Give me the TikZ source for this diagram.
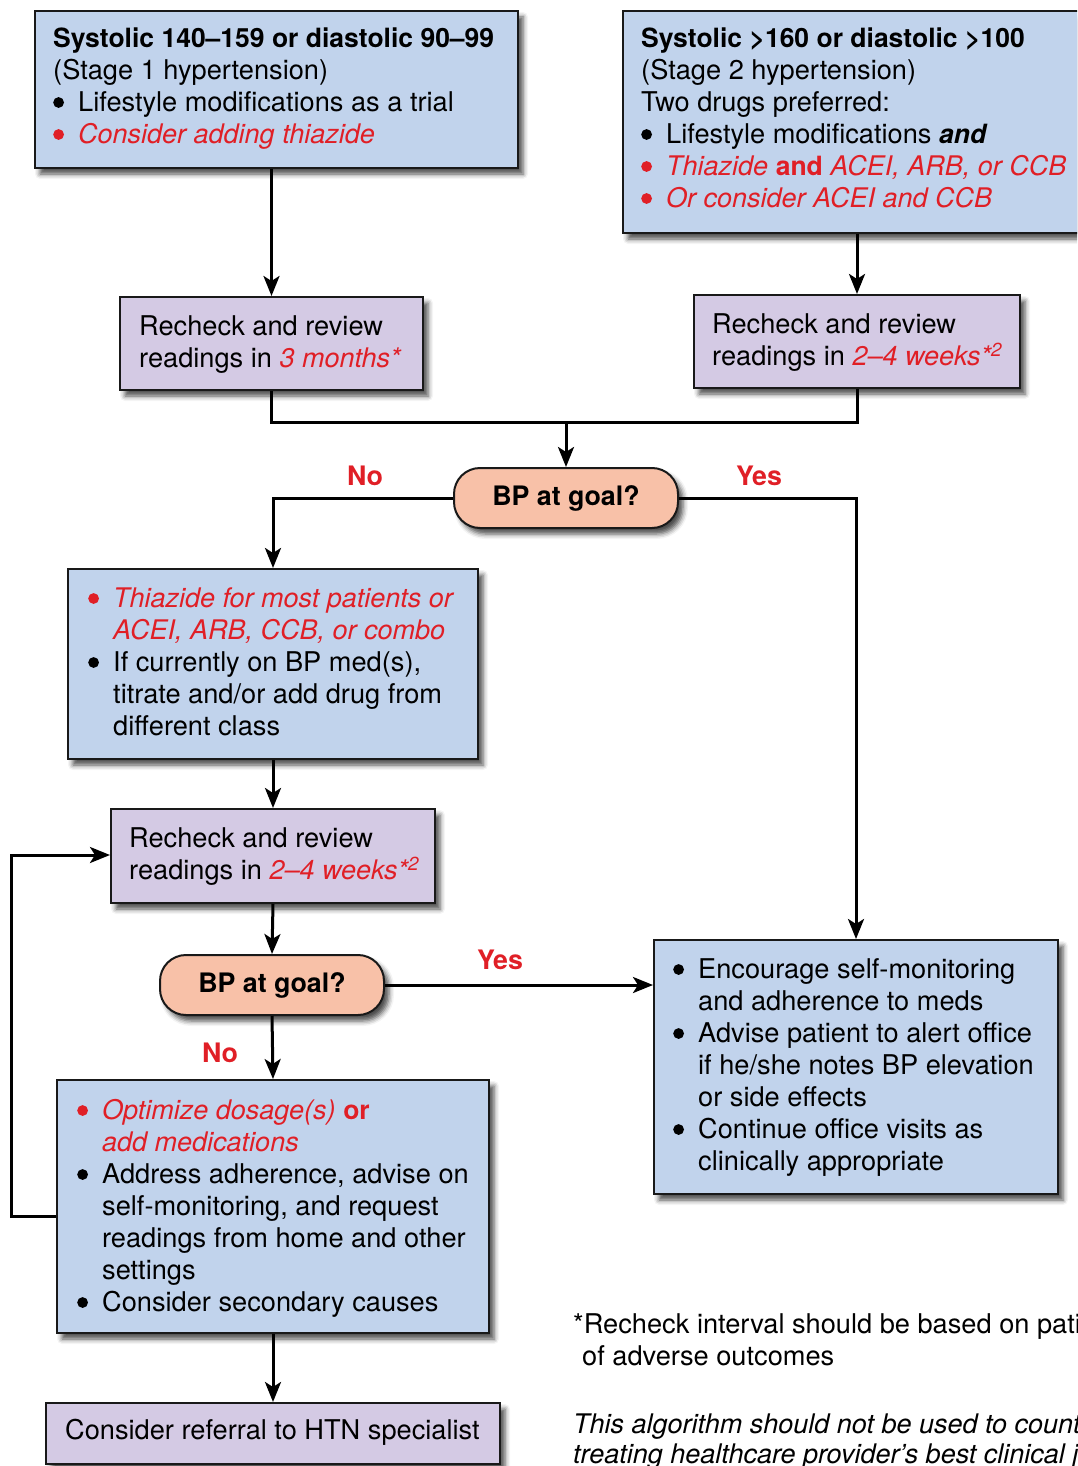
\documentclass[tikz,border=0pt]{standalone}
\usepackage{fontspec}
\setmainfont{TeX Gyre Heros}
\usetikzlibrary{arrows.meta,shadows.blur,calc}
\definecolor{hred}{HTML}{E01F26}
\definecolor{boxblue}{HTML}{C1D3EC}
\definecolor{boxpurple}{HTML}{D4CAE4}
\definecolor{boxorange}{HTML}{F8C1A8}
\newcommand\mybul[1][black]{\makebox[25pt][l]{\tikz[baseline=0pt]\fill[#1] (5.4pt,8.7pt) circle[radius=5.4pt];}}
\newcommand\myind{\hspace*{25pt}}
\newcommand\firststrut{\rule{0pt}{23pt}}
\newcommand\bft[1]{{\fontsize{26.5}{32}\selectfont\bfseries #1}}
\newcommand\itt[1]{{\fontsize{27}{32}\selectfont\itshape #1}}
\begin{document}
\begin{tikzpicture}[x=1pt,y=-1pt,
  every node/.style={font=\fontsize{27.2}{32}\selectfont},
  myshadow/.style={blur shadow={shadow xshift=5pt, shadow yshift=-6pt, shadow blur radius=5pt, shadow opacity=70}},
  boxbase/.style={draw=black!90, line width=2pt, anchor=north west, inner sep=0pt, myshadow},
  bluebox/.style={boxbase, fill=boxblue},
  purplebox/.style={boxbase, fill=boxpurple},
  goalbox/.style={draw=black!90, line width=2pt, fill=boxorange, rounded corners=26pt, inner sep=0pt,
     minimum width=224pt, minimum height=60pt,
     font=\bfseries\fontsize{26.8}{32}\selectfont, text height=18pt, text depth=4pt, myshadow},
  txt/.style={anchor=north west, inner sep=0pt, align=left},
  lbl/.style={anchor=base, inner sep=0pt, text=hred, font=\bfseries\fontsize{26.8}{32}\selectfont},
  conn/.style={line width=3pt, -{Stealth[length=20pt,width=16pt,inset=5pt]}},
  plainline/.style={line width=3pt},
]
\useasboundingbox (0,0) rectangle (1077,1466);
\clip (0,0) rectangle (1077,1466);

% boxes
\node[bluebox, minimum width=483pt, minimum height=157pt] (b1) at (34,10) {};
\node[bluebox, minimum width=468pt, minimum height=222pt] (b2) at (622,10) {};
\node[purplebox, minimum width=303pt, minimum height=93pt] (b3) at (119,296) {};
\node[purplebox, minimum width=326pt, minimum height=93pt] (b4) at (693,294) {};
\node[goalbox] (g1) at (566,498) {BP at goal?};
\node[bluebox, minimum width=410pt, minimum height=190pt] (b5) at (67,568) {};
\node[purplebox, minimum width=324pt, minimum height=94pt] (b6) at (110,808) {};
\node[goalbox] (g2) at (272,985) {BP at goal?};
\node[bluebox, minimum width=432pt, minimum height=253pt] (b7) at (56,1079) {};
\node[bluebox, minimum width=404pt, minimum height=254pt] (b8) at (653,939) {};
\node[purplebox, minimum width=454pt, minimum height=61pt] (b9) at (45,1402) {};

% texts
\node[txt] (t1) at (53,24) {\firststrut\bft{Systolic 140–159 or diastolic 90–99}\\
(Stage 1 hypertension)\\
\mybul Lifestyle modifications as a trial\\
\mybul[hred]{\color{hred}\itt{Consider adding thiazide}}};

\node[txt] (t2) at (641,24) {\firststrut\bft{Systolic >160 or diastolic >100}\\
(Stage 2 hypertension)\\
Two drugs preferred:\\
\mybul Lifestyle modifications \bft{\itshape and}\\
\mybul[hred]{\color{hred}\itt{Thiazide} \bft{and} \itt{ACEI, ARB, or CCB}}\\
\mybul[hred]{\color{hred}\itt{Or consider ACEI and CCB}}};

\node[txt] (t3) at (139,312) {\firststrut Recheck and review\\
readings in {\color{hred}\itt{3 months*}}};

\node[txt] (t4) at (712,310) {\firststrut Recheck and review\\
readings in {\color{hred}\itt{2–4 weeks*\textsuperscript{2}}}};

\node[txt] (t5) at (88,584) {\firststrut\mybul[hred]{\color{hred}\itt{Thiazide for most patients or}}\\
\myind{\color{hred}\itt{ACEI, ARB, CCB, or combo}}\\
\mybul If currently on BP med(s),\\
\myind titrate and/or add drug from\\
\myind different class};

\node[txt] (t6) at (129,824) {\firststrut Recheck and review\\
readings in {\color{hred}\itt{2–4 weeks*\textsuperscript{2}}}};

\node[txt] (t7) at (77,1096) {\firststrut\mybul[hred]{\color{hred}\itt{Optimize dosage(s)} \bft{or}}\\
\myind{\color{hred}\itt{add medications}}\\
\mybul Address adherence, advise on\\
\myind self-monitoring, and request\\
\myind readings from home and other\\
\myind settings\\
\mybul Consider secondary causes};

\node[txt] (t8) at (673,955) {\firststrut\mybul Encourage self-monitoring\\
\myind and adherence to meds\\
\mybul Advise patient to alert office\\
\myind if he/she notes BP elevation\\
\myind or side effects\\
\mybul Continue office visits as\\
\myind clinically appropriate};

\node[txt] (t9) at (65,1416) {\firststrut Consider referral to HTN specialist};

\node[txt] (f1) at (573,1310) {\firststrut *Recheck interval should be based on pati\\
\hspace*{9pt}of adverse outcomes};
\node[txt, font=\itshape\fontsize{27}{30}\selectfont] (f2) at (573,1410) {\firststrut This algorithm should not be used to count\\
treating healthcare provider’s best clinical j};

% labels
\node[lbl] (no1) at (365,485) {No};
\node[lbl] (yes1) at (759,485) {Yes};
\node[lbl] (yes2) at (500,969) {Yes};
\node[lbl] (no2) at (220,1062) {No};

% connectors
\coordinate (j) at (566,422);
\coordinate (l1) at (11,1216);
\coordinate (l2) at (11,855);
\draw[conn] (b1.south -| b3.north) -- (b3.north);
\draw[conn] (b2.south -| b4.north) -- (b4.north);
\draw[plainline] (b3.south) |- (j) -| (b4.south);
\draw[conn] (j) -- (g1.north);
\draw[conn] (g1.west) -| (b5.north);
\draw[conn] (g1.east) -| (b8.north);
\draw[conn] (b5.south) -- (b6.north);
\draw[conn] (b6.south) -- (g2.north);
\draw[conn] (g2.east) -- (g2.east -| b8.west);
\draw[conn] (g2.south) -- (b7.north);
\draw[conn] (b7.south) -- (b9.north);
\draw[conn] (l1 -| b7.west) -- (l1) -- (l2) -- (l2 -| b6.west);
\end{tikzpicture}
\end{document}
